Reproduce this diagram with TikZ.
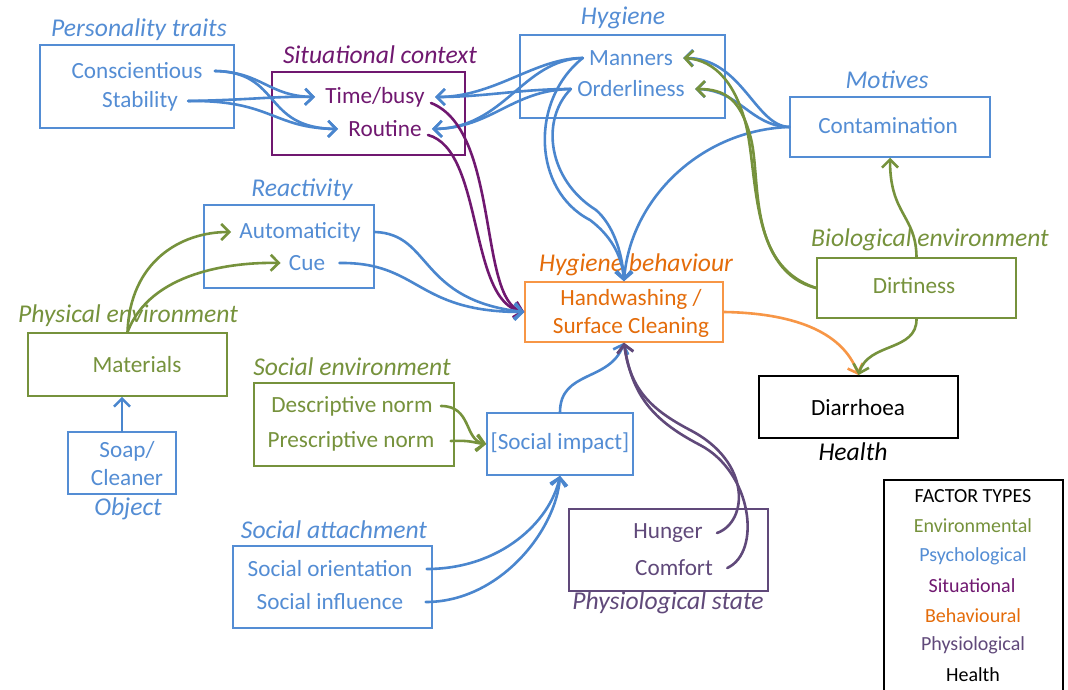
\documentclass[tikz,border=0pt]{standalone}
\usepackage{fontspec}
\setmainfont{Carlito}
\usetikzlibrary{arrows.meta}
\definecolor{psy}{RGB}{84,141,212}
\definecolor{psyl}{RGB}{74,134,206}
\definecolor{env}{RGB}{118,146,60}
\definecolor{sit}{RGB}{112,24,112}
\definecolor{beh}{RGB}{228,108,10}
\definecolor{behbox}{RGB}{247,150,70}
\definecolor{phy}{RGB}{96,73,122}
\begin{document}
\begin{tikzpicture}[x=0.5pt,y=-0.5pt,
  box/.style={draw,line width=0.75pt,inner sep=0pt},
  txt/.style={font=\fontsize{11.6}{14}\selectfont,inner sep=1pt,align=center},
  ttl/.style={font=\fontsize{12.8}{14}\selectfont\itshape,inner sep=1pt},
  leg/.style={font=\fontsize{10}{12}\selectfont,inner sep=1pt},
  con/.style={line width=1.3pt,line cap=round,-{Straight Barb[length=4pt,width=8pt]}}]
\useasboundingbox (0,0) rectangle (1068,689);
\fill[white] (0,0) rectangle (1068,689);

% ---------- boxes ----------
\node[box,draw=psy,minimum width=97pt,minimum height=41.5pt] (bpers) at (137,86.5) {};
\node[box,draw=sit,minimum width=96.5pt,minimum height=41.5pt] (bsit) at (368.5,113.5) {};
\node[box,draw=psy,minimum width=102.5pt,minimum height=41.5pt] (bhyg) at (622.5,76.5) {};
\node[box,draw=psy,minimum width=100pt,minimum height=30pt] (bmot) at (890,127) {};
\node[box,draw=psy,minimum width=85pt,minimum height=41.5pt] (breact) at (289,246.5) {};
\node[box,draw=behbox,minimum width=99pt,minimum height=30pt] (bhb) at (624,312) {};
\node[box,draw=env,minimum width=99.5pt,minimum height=30pt] (bbio) at (916.5,288) {};
\node[box,draw=env,minimum width=99.5pt,minimum height=31.5pt] (bphys) at (127.5,364.5) {};
\node[box,draw=psy,minimum width=54pt,minimum height=31pt] (bsoap) at (122,463) {};
\node[box,draw=env,minimum width=100pt,minimum height=41.5pt] (bsenv) at (354,424.5) {};
\node[box,draw=psy,minimum width=73pt,minimum height=31pt] (bsimp) at (560,444) {};
\node[box,draw=black,line width=0.9pt,minimum width=99.5pt,minimum height=31pt] (bdiar) at (858.5,407) {};
\node[box,draw=psy,minimum width=99.5pt,minimum height=41pt] (bsatt) at (332.5,587) {};
\node[box,draw=phy,minimum width=99.5pt,minimum height=41pt] (bphy) at (668.5,550) {};
\node[box,draw=black,line width=0.9pt,minimum width=89.5pt,minimum height=110pt] (bleg) at (973.5,590) {};

% ---------- titles ----------
\node[ttl,psy] (tpers) at (139,30) {Personality traits};
\node[ttl,sit] (tsit) at (380,55) {Situational context};
\node[ttl,psy] (thyg) at (623,18) {Hygiene};
\node[ttl,psy] (tmot) at (887,80) {Motives};
\node[ttl,psy] (treact) at (302,190) {Reactivity};
\node[ttl,beh] (thb) at (636,265) {Hygiene\ behaviour};
\node[ttl,env] (tbio) at (930,240) {Biological\ environment};
\node[ttl,env] (tphys) at (128,316) {Physical environment};
\node[ttl,psy] (tobj) at (128,509) {Object};
\node[ttl,env] (tsenv) at (352,367) {Social environment};
\node[ttl,black] (thealth) at (853,452) {Health};
\node[ttl,psy] (tsatt) at (334,530) {Social attachment};
\node[ttl,phy] (tphy) at (668,603) {Physiological state};

% ---------- texts ----------
\node[txt,psy] (consc) at (137,71) {Conscientious};
\node[txt,psy] (stab) at (140,101) {Stability};
\node[txt,sit] (time) at (375,97) {Time/busy};
\node[txt,sit] (rout) at (385,129) {Routine};
\node[txt,psy] (mann) at (631,58) {Manners};
\node[txt,psy] (ord) at (631,89) {Orderliness};
\node[txt,psy] (cont) at (888,126) {Contamination};
\node[txt,psy] (auto) at (300,232) {Automaticity};
\node[txt,psy] (cue) at (307,263) {Cue};
\node[txt,beh] (hbt) at (631,313) {Handwashing /\\Surface Cleaning};
\node[txt,env] (dirt) at (914,286) {Dirtiness};
\node[txt,env] (mat) at (137,365) {Materials};
\node[txt,psy] (soap) at (127,464) {Soap/\\Cleaner};
\node[txt,env] (desc) at (352,406) {Descriptive norm};
\node[txt,env] (pres) at (351,441) {Prescriptive norm};
\node[txt,psy] (simp) at (560,443) {[Social impact]};
\node[txt,black] (diar) at (858,408) {Diarrhoea};
\node[txt,psy] (sor) at (330,569) {Social orientation};
\node[txt,psy] (sinf) at (330,602) {Social influence};
\node[txt,phy] (hung) at (668,533) {Hunger};
\node[txt,phy] (comf) at (674,568) {Comfort};

% ---------- legend ----------
\node[leg,black] (l0) at (973,496) {FACTOR TYPES};
\node[leg,env] (l1) at (973,526) {Environmental};
\node[leg,psy] (l2) at (973,556) {Psychological};
\node[leg,sit] (l3) at (972,586) {Situational};
\node[leg,beh] (l4) at (973,616) {Behavioural};
\node[leg,phy] (l5) at (973,645) {Physiological};
\node[leg,black] (l6) at (973,675) {Health};

% ---------- coordinates of connector ends ----------
\coordinate (consE) at ([xshift=5pt]consc.east);
\coordinate (stabE) at ([xshift=4pt]stab.east);
\coordinate (timeW) at ([xshift=-4pt]time.west);
\coordinate (routW) at ([xshift=-4pt]rout.west);
\coordinate (timeE) at ([xshift=4pt]time.east);
\coordinate (routE) at ([xshift=4pt]rout.east);
\coordinate (mannW) at ([xshift=-2pt]mann.west);
\coordinate (ordW) at ([xshift=-2pt]ord.west);
\coordinate (mannE) at ([xshift=4pt]mann.east);
\coordinate (ordE) at ([xshift=4pt]ord.east);
\coordinate (hbW) at (bhb.west);
\coordinate (hbN) at (bhb.north);
\coordinate (hbS) at (bhb.south);
\coordinate (autoE) at ([xshift=6pt]auto.east);
\coordinate (cueE) at ([xshift=6pt]cue.east);
\coordinate (autoW) at ([xshift=-3pt]auto.west);
\coordinate (cueW) at ([xshift=-3pt]cue.west);

% ---------- connectors ----------
% personality -> situational
\draw[con,psyl] (consE) .. controls (262,72) and (268,96) .. (timeW);
\draw[con,psyl] (consE) .. controls (282,72) and (262,128) .. (routW);
\draw[con,psyl] (stabE) .. controls (250,100) and (275,96) .. (timeW);
\draw[con,psyl] (stabE) .. controls (272,100) and (272,128) .. (routW);
% hygiene -> situational
\draw[con,psyl] (mannW) .. controls (535,58) and (495,97) .. (timeE);
\draw[con,psyl] (mannW) .. controls (522,60) and (505,128) .. (routE);
\draw[con,psyl] (ordW) .. controls (520,89) and (485,97) .. (timeE);
\draw[con,psyl] (ordW) .. controls (512,90) and (492,128) .. (routE);
% situational -> behaviour
\draw[con,sit] ([xshift=-2pt,yshift=-3pt]timeE) .. controls (500,130) and (478,300) .. (hbW);
\draw[con,sit] ([xshift=-2pt,yshift=-3pt]routE) .. controls (484,150) and (468,302) .. (hbW);
% reactivity -> behaviour
\draw[con,psyl] (autoE) .. controls (432,234) and (418,300) .. (hbW);
\draw[con,psyl] (cueE) .. controls (420,262) and (415,312) .. (hbW);
% materials -> reactivity
\draw[con,env] (bphys.north) .. controls (130,262) and (180,232) .. (autoW);
\draw[con,env] (bphys.north) .. controls (150,272) and (232,262) .. (cueW);
% soap -> materials
\draw[con,psyl] (bsoap.north) -- (bsoap.north |- bphys.south);
% hygiene -> behaviour
\draw[con,psyl] (mannW) .. controls (530,100) and (532,190) .. (590,220) .. controls (610,235) and (622,255) .. (hbN);
\draw[con,psyl] (ordW) .. controls (540,120) and (548,180) .. (596,210) .. controls (612,224) and (622,250) .. (hbN);
% contamination -> hygiene & behaviour
\draw[con,psyl] (bmot.west) .. controls (755,126) and (742,58) .. (mannE);
\draw[con,psyl] (bmot.west) .. controls (750,126) and (740,90) .. (ordE);
\draw[con,psyl] (bmot.west) .. controls (700,130) and (630,200) .. (hbN);
% dirtiness -> hygiene, contamination
\draw[con,env] (bbio.west) .. controls (750,272) and (758,175) .. (746,125) .. controls (736,85) and (716,60) .. (mannE);
\draw[con,env] (bbio.west) .. controls (745,265) and (762,175) .. (750,135) .. controls (740,100) and (726,89) .. (ordE);
\draw[con,env] (bbio.north) .. controls (916,215) and (890,215) .. (bmot.south);
% to health
\draw[con,behbox] (bhb.east) .. controls (790,313) and (842,330) .. (bdiar.north);
\draw[con,env] (bbio.south) .. controls (917,352) and (868,342) .. (bdiar.north);
% social environment -> social impact
\draw[con,env] ([xshift=3pt]desc.east) .. controls (472,406) and (464,440) .. (bsimp.west);
\draw[con,env] ([xshift=7pt]pres.east) .. controls (472,440) and (474,443) .. (bsimp.west);
% social impact -> behaviour
\draw[con,psyl] (bsimp.north) .. controls (560,370) and (610,382) .. (hbS);
% social attachment -> social impact
\draw[con,psyl] ([xshift=6pt]sor.east) .. controls (500,569) and (550,522) .. (bsimp.south);
\draw[con,psyl] ([xshift=10pt]sinf.east) .. controls (500,602) and (556,530) .. (bsimp.south);
% physiological -> behaviour
\draw[con,phy] ([xshift=6pt]hung.east) .. controls (748,522) and (752,462) .. (690,430) .. controls (652,410) and (630,390) .. (hbS);
\draw[con,phy] ([xshift=6pt]comf.east) .. controls (762,552) and (752,472) .. (700,445) .. controls (652,420) and (632,395) .. (hbS);
\end{tikzpicture}
\end{document}
